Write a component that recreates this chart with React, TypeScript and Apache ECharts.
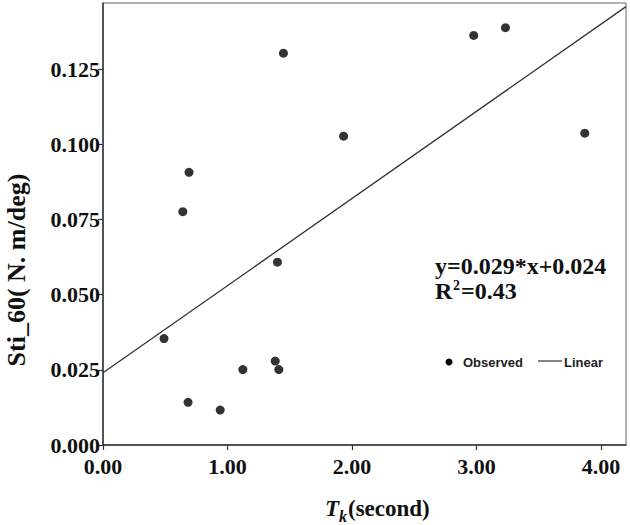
import React, { useEffect, useRef } from "react";
import * as echarts from "echarts";

const tkSeconds = [1.449, 0.691, 0.641, 2.977, 3.232, 1.932, 3.869, 1.401, 0.49, 1.123, 1.383, 1.412, 0.683, 0.941];
const sti60 = [0.1303, 0.0907, 0.0776, 0.1362, 0.1388, 0.1027, 0.1037, 0.0608, 0.0354, 0.0251, 0.0279, 0.0251, 0.0142, 0.0116];
const fitSlope = 0.029;
const fitIntercept = 0.024;
const fitRange = [0, 4.2];
const xTicks = [0, 1, 2, 3, 4];
const yTicks = [0, 0.025, 0.05, 0.075, 0.1, 0.125];

const SERIF = "'Liberation Serif', 'Times New Roman', serif";
const SANS = "'Liberation Sans', Arial, sans-serif";

export default function App() {
  const ref = useRef<HTMLDivElement>(null);
  useEffect(() => {
    if (!ref.current) return;
    const chart = echarts.init(ref.current, null, { renderer: "svg" });
    const points = tkSeconds.map((x, i) => [x, sti60[i]]);
    const fitLine = fitRange.map((x) => [x, fitIntercept + fitSlope * x]);
    chart.setOption({
      animation: false,
      backgroundColor: "#fff",
      grid: {
        left: 103,
        right: 4,
        top: 3,
        bottom: 80,
        show: true,
        borderColor: "#666",
        borderWidth: 1,
        backgroundColor: "transparent",
      },
      xAxis: {
        type: "value",
        min: 0,
        max: 4.2,
        axisLine: { show: true, onZero: false, lineStyle: { color: "#333", width: 1.5 } },
        axisTick: { show: true, length: 5, customValues: xTicks, lineStyle: { color: "#333", width: 1.2 } },
        axisLabel: {
          customValues: xTicks,
          margin: 12,
          fontFamily: SERIF,
          fontWeight: "bold",
          fontSize: 22,
          lineHeight: 18,
          color: "#111",
          formatter: (v: number) => v.toFixed(2),
        },
        splitLine: { show: false },
      },
      yAxis: {
        type: "value",
        min: 0,
        max: 0.147,
        axisLine: { show: true, onZero: false, lineStyle: { color: "#333", width: 1.5 } },
        axisTick: { show: true, length: 5, customValues: yTicks, lineStyle: { color: "#333", width: 1.2 } },
        axisLabel: {
          customValues: yTicks,
          margin: 3,
          fontFamily: SERIF,
          fontWeight: "bold",
          fontSize: 22,
          lineHeight: 18,
          color: "#111",
          formatter: (v: number) => v.toFixed(3),
        },
        splitLine: { show: false },
      },
      series: [
        {
          name: "Observed",
          type: "scatter",
          data: points,
          symbol: "circle",
          symbolSize: 9,
          itemStyle: { color: "#000" },
        },
        {
          name: "Linear",
          type: "line",
          data: fitLine,
          symbol: "none",
          lineStyle: { color: "#333", width: 1.3 },
        },
      ],
      graphic: [
        {
          type: "text",
          x: 16,
          y: 270,
          rotation: Math.PI / 2,
          style: {
            text: "Sti_60( N. m/deg)",
            fontFamily: SERIF,
            fontWeight: "bold",
            fontSize: 26,
            fill: "#111",
            align: "center",
            verticalAlign: "middle",
          },
        },
        {
          type: "text",
          x: 325,
          y: 508,
          style: {
            text: "T",
            fontFamily: SERIF,
            fontWeight: "bold",
            fontStyle: "italic",
            fontSize: 23,
            fill: "#111",
            align: "left",
            verticalAlign: "middle",
          },
        },
        {
          type: "text",
          x: 339,
          y: 516,
          style: {
            text: "k",
            fontFamily: SERIF,
            fontWeight: "bold",
            fontStyle: "italic",
            fontSize: 16,
            fill: "#111",
            align: "left",
            verticalAlign: "middle",
          },
        },
        {
          type: "text",
          x: 348,
          y: 508,
          style: {
            text: "(second)",
            fontFamily: SERIF,
            fontWeight: "bold",
            fontSize: 23,
            fill: "#111",
            align: "left",
            verticalAlign: "middle",
          },
        },
        {
          type: "text",
          x: 435,
          y: 266,
          style: {
            text: "y=0.029*x+0.024",
            fontFamily: SERIF,
            fontWeight: "bold",
            fontSize: 24,
            fill: "#111",
            align: "left",
            verticalAlign: "middle",
          },
        },
        {
          type: "text",
          x: 435,
          y: 291,
          style: {
            text: "R",
            fontFamily: SERIF,
            fontWeight: "bold",
            fontSize: 24,
            fill: "#111",
            align: "left",
            verticalAlign: "middle",
          },
        },
        {
          type: "text",
          x: 453,
          y: 285,
          style: {
            text: "2",
            fontFamily: SERIF,
            fontWeight: "bold",
            fontSize: 14,
            fill: "#111",
            align: "left",
            verticalAlign: "middle",
          },
        },
        {
          type: "text",
          x: 461,
          y: 291,
          style: {
            text: "=0.43",
            fontFamily: SERIF,
            fontWeight: "bold",
            fontSize: 24,
            fill: "#111",
            align: "left",
            verticalAlign: "middle",
          },
        },
        {
          type: "circle",
          shape: { cx: 449, cy: 362, r: 3.5 },
          style: { fill: "#000" },
        },
        {
          type: "text",
          x: 463,
          y: 362,
          style: {
            text: "Observed",
            fontFamily: SANS,
            fontWeight: "bold",
            fontSize: 13,
            fill: "#222",
            align: "left",
            verticalAlign: "middle",
          },
        },
        {
          type: "line",
          shape: { x1: 538, y1: 361, x2: 562, y2: 361 },
          style: { stroke: "#333", lineWidth: 1.2 },
        },
        {
          type: "text",
          x: 564,
          y: 362,
          style: {
            text: "Linear",
            fontFamily: SANS,
            fontWeight: "bold",
            fontSize: 13,
            fill: "#222",
            align: "left",
            verticalAlign: "middle",
          },
        },
      ],
    });
    return () => chart.dispose();
  }, []);
  return (
    <div
      ref={ref}
      style={{ position: "fixed", left: 0, top: 0, width: 630, height: 525 }}
    />
  );
}
